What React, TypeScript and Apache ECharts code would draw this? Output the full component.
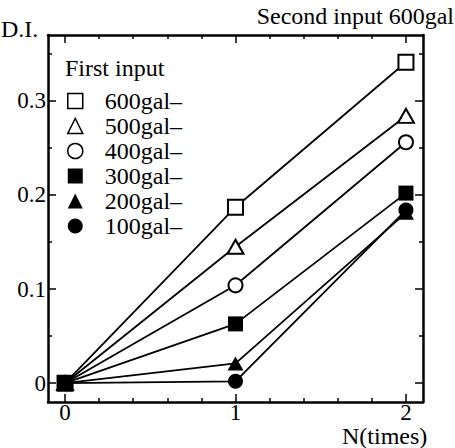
import React, { useEffect, useRef } from "react";
import * as echarts from "echarts";

const N_TIMES = [0, 1, 2];
const SERIES_NAMES = ["600gal", "500gal", "400gal", "300gal", "200gal", "100gal"];
const DI_600 = [0, 0.187, 0.341];
const DI_500 = [0, 0.145, 0.284];
const DI_400 = [0, 0.104, 0.256];
const DI_300 = [0, 0.063, 0.202];
const DI_200 = [0, 0.021, 0.181];
const DI_100 = [0, 0.002, 0.184];
const X_MAJOR = [0, 1, 2];
const X_MINOR = [0.2, 0.4, 0.6, 0.8, 1.2, 1.4, 1.6, 1.8];
const Y_MAJOR = [0, 0.1, 0.2, 0.3];
const Y_MINOR = [0.05, 0.15, 0.25, 0.35];

const FONT = "Liberation Serif";
const BLACK = "#000";

const SERIES_VALUES = [DI_600, DI_500, DI_400, DI_300, DI_200, DI_100];
const SYMBOLS = ["rect", "triangle", "circle", "rect", "triangle", "circle"];
const FILLED = [false, false, false, true, true, true];
const SIZES: any[] = [15, [16, 14], 14, 15, [16, 14], 15];
const Z = [2, 2, 2, 5, 3, 4];

function buildOption(): any {
  const textStyle = { fontFamily: FONT, fontSize: 24, color: BLACK, fontWeight: "normal" as const };
  const tickText = { ...textStyle, fontSize: 23 };

  const xBase = { type: "value", min: -0.1, max: 2.1, gridIndex: 0, splitLine: { show: false } };
  const yBase = { type: "value", min: -0.02, max: 0.37, gridIndex: 0, splitLine: { show: false } };
  const lineStyle = { color: BLACK, width: 2.5 };
  const tickStyle = { color: BLACK, width: 1.5 };

  const xAxis = [
    {
      ...xBase,
      position: "bottom",
      axisLine: { show: true, onZero: false, lineStyle },
      axisTick: { show: true, inside: true, length: 8, lineStyle: tickStyle, customValues: X_MAJOR },
      axisLabel: { show: true, customValues: X_MAJOR, margin: 0, lineHeight: 20, ...tickText },
    },
    {
      ...xBase,
      position: "bottom",
      axisLine: { show: false, onZero: false },
      axisTick: { show: true, inside: true, length: 4, lineStyle: tickStyle, customValues: X_MINOR },
      axisLabel: { show: false },
    },
    {
      ...xBase,
      position: "top",
      axisLine: { show: true, onZero: false, lineStyle },
      axisTick: { show: true, inside: true, length: 8, lineStyle: tickStyle, customValues: X_MAJOR },
      axisLabel: { show: false },
    },
    {
      ...xBase,
      position: "top",
      axisLine: { show: false, onZero: false },
      axisTick: { show: true, inside: true, length: 4, lineStyle: tickStyle, customValues: X_MINOR },
      axisLabel: { show: false },
    },
  ];

  const yAxis = [
    {
      ...yBase,
      position: "left",
      axisLine: { show: true, onZero: false, lineStyle },
      axisTick: { show: true, inside: true, length: 8, lineStyle: tickStyle, customValues: Y_MAJOR },
      axisLabel: {
        show: true,
        customValues: Y_MAJOR,
        margin: 2,
        formatter: (v: number) => String(Math.round(v * 10) / 10),
        ...tickText,
      },
    },
    {
      ...yBase,
      position: "left",
      axisLine: { show: false, onZero: false },
      axisTick: { show: true, inside: true, length: 4, lineStyle: tickStyle, customValues: Y_MINOR },
      axisLabel: { show: false },
    },
    {
      ...yBase,
      position: "right",
      axisLine: { show: true, onZero: false, lineStyle },
      axisTick: { show: true, inside: true, length: 8, lineStyle: tickStyle, customValues: Y_MAJOR },
      axisLabel: { show: false },
    },
    {
      ...yBase,
      position: "right",
      axisLine: { show: false, onZero: false },
      axisTick: { show: true, inside: true, length: 4, lineStyle: tickStyle, customValues: Y_MINOR },
      axisLabel: { show: false },
    },
  ];

  const series = SERIES_NAMES.map((name, i) => ({
    name,
    type: "line",
    xAxisIndex: 0,
    yAxisIndex: 0,
    data: N_TIMES.map((n, j) => [n, SERIES_VALUES[i][j]]),
    symbol: SYMBOLS[i],
    symbolSize: SIZES[i],
    showAllSymbol: true,
    z: Z[i],
    lineStyle: { color: BLACK, width: 1.8 },
    itemStyle: FILLED[i]
      ? { color: BLACK, borderColor: BLACK, borderWidth: 0 }
      : { color: "#fff", borderColor: BLACK, borderWidth: 2 },
    emphasis: { disabled: true },
    silent: true,
  }));

  return {
    animation: false,
    backgroundColor: "#fff",
    grid: { left: 48, right: 32, top: 35, bottom: 46, containLabel: false },
    title: [
      { text: "Second input 600gal", right: 1, top: 4, padding: 0, textStyle },
      { text: "First input", left: 65, top: 56, padding: 0, textStyle },
      { text: "D.I.", left: 1, top: 17, padding: 0, textStyle },
      { text: "N(times)", left: 342, top: 424, padding: 0, textStyle },
    ],
    legend: {
      orient: "vertical",
      left: 67,
      top: 89,
      padding: 0,
      itemWidth: 15,
      itemHeight: 15,
      itemGap: 1,
      selectedMode: false,
      data: SERIES_NAMES.map((name, i) => ({
        name,
        icon: SYMBOLS[i],
        itemStyle: FILLED[i]
          ? { color: BLACK, borderColor: BLACK, borderWidth: 0 }
          : { color: "#fff", borderColor: BLACK, borderWidth: 1.5 },
      })),
      formatter: (name: string) => name + "\u2013",
      textStyle: { ...textStyle, lineHeight: 20, padding: [0, 0, 0, 17] },
    },
    xAxis,
    yAxis,
    series,
  };
}

export default function App() {
  const ref = useRef<HTMLDivElement>(null);
  useEffect(() => {
    if (!ref.current) return;
    const chart = echarts.init(ref.current, null, { renderer: "svg" });
    chart.setOption(buildOption());
    return () => chart.dispose();
  }, []);
  return (
    <div
      ref={ref}
      style={{ position: "fixed", left: 0, top: 0, width: 455, height: 448, background: "#fff" }}
    />
  );
}
